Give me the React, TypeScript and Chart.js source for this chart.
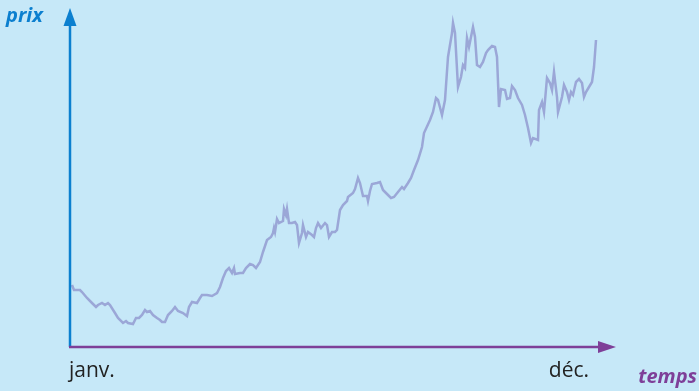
import React, { useEffect, useRef } from "react";
import { Chart, registerables } from "chart.js";

Chart.register(...registerables);

// time position along the year (arbitrary units, janv. = 0)
const t = [
  2, 4, 10, 12, 17, 22, 26, 28, 32, 35, 38, 40, 45, 48, 53, 56, 58, 63, 66, 69,
  72, 75, 77, 80, 83, 87, 90, 92, 95, 98, 102, 105, 108, 113, 117, 119, 122, 127, 130, 132,
  137, 142, 147, 150, 153, 156, 159, 162, 164, 165, 170, 173, 176, 180, 183, 186, 190, 193, 197, 201,
  203, 204, 205, 207, 209, 213, 214, 216, 217, 219, 222, 225, 227, 229, 232, 233, 236, 238, 242, 244,
  246, 248, 251, 255, 257, 259, 262, 265, 267, 270, 273, 277, 278, 283, 285, 288, 290, 293, 297, 298,
  300, 302, 307, 310, 313, 317, 321, 324, 328, 332, 334, 338, 341, 344, 348, 352, 354, 360, 363, 366,
  368, 372, 375, 378, 382, 383, 385, 388, 391, 393, 395, 397, 399, 401, 403, 405, 407, 410, 413, 416,
  418, 422, 425, 427, 429, 431, 435, 437, 440, 442, 445, 448, 452, 455, 458, 461, 463, 468, 469, 472,
  474, 477, 480, 482, 484, 487, 488, 492, 494, 497, 499, 501, 503, 506, 509, 512, 514, 516, 519, 522,
  524, 526,
];

// price (arbitrary units)
const prix = [
  62, 57, 57, 55, 49, 44, 40, 42, 44, 42, 44, 42, 34, 29, 24, 26, 24, 23, 29, 29,
  32, 37, 35, 36, 32, 29, 27, 25, 25, 32, 36, 40, 36, 34, 31, 40, 45, 44, 49, 52,
  52, 51, 54, 60, 69, 76, 79, 74, 79, 73, 74, 74, 79, 83, 82, 79, 85, 95, 107, 110,
  114, 119, 115, 128, 124, 126, 138, 132, 138, 124, 124, 125, 122, 104, 114, 122, 110, 115, 112, 110,
  119, 124, 119, 124, 122, 110, 115, 115, 117, 137, 142, 146, 150, 154, 158, 169, 164, 151, 151, 146,
  156, 163, 164, 165, 157, 153, 149, 150, 155, 160, 158, 164, 169, 177, 187, 200, 214, 227, 235, 249,
  247, 232, 247, 290, 314, 324, 314, 260, 270, 282, 279, 309, 300, 310, 320, 310, 282, 280, 285, 294,
  297, 301, 300, 290, 240, 258, 257, 248, 249, 261, 257, 249, 242, 232, 219, 204, 209, 207, 237, 245,
  235, 269, 264, 257, 275, 250, 235, 250, 262, 255, 247, 255, 252, 265, 268, 264, 250, 255, 260, 265,
  280, 307,
];

const debut = "janv.";
const fin = "déc.";
const titreY = "prix";
const titreX = "temps";

const BG = "#c6e8f8";
const BLUE = "#0b7fcf";
const PURPLE = "#7e3f98";

const decorPlugin = {
  id: "decor",
  beforeDraw(chart: any) {
    const { ctx, width, height } = chart;
    ctx.save();
    ctx.fillStyle = BG;
    ctx.fillRect(0, 0, width, height);
    ctx.restore();
  },
  afterDraw(chart: any) {
    const { ctx, chartArea } = chart;
    const left = chartArea.left;
    const bottom = chartArea.bottom;
    const top = chartArea.top;
    const right = chartArea.right;
    ctx.save();
    // y axis
    ctx.strokeStyle = BLUE;
    ctx.fillStyle = BLUE;
    ctx.lineWidth = 2.5;
    ctx.beginPath();
    ctx.moveTo(left, bottom);
    ctx.lineTo(left, top + 14);
    ctx.stroke();
    ctx.beginPath();
    ctx.moveTo(left, top - 2);
    ctx.lineTo(left - 6.5, top + 16);
    ctx.lineTo(left + 6.5, top + 16);
    ctx.closePath();
    ctx.fill();
    // x axis
    ctx.strokeStyle = PURPLE;
    ctx.fillStyle = PURPLE;
    ctx.beginPath();
    ctx.moveTo(left - 1, bottom);
    ctx.lineTo(right - 16, bottom);
    ctx.stroke();
    ctx.beginPath();
    ctx.moveTo(right, bottom);
    ctx.lineTo(right - 18, bottom - 6);
    ctx.lineTo(right - 18, bottom + 6);
    ctx.closePath();
    ctx.fill();
    // texts
    ctx.textBaseline = "alphabetic";
    ctx.font = 'italic bold 20px "Open Sans"';
    ctx.fillStyle = BLUE;
    ctx.textAlign = "left";
    ctx.fillText(titreY, 6, 22);
    ctx.fillStyle = PURPLE;
    ctx.textAlign = "right";
    ctx.fillText(titreX, 697, 383);
    ctx.font = '21px "Open Sans"';
    ctx.fillStyle = "#222222";
    ctx.textAlign = "left";
    ctx.fillText(debut, 69, 377);
    ctx.textAlign = "right";
    ctx.fillText(fin, 589, 377);
    ctx.restore();
  },
};

export default function App() {
  const ref = useRef<HTMLCanvasElement | null>(null);
  useEffect(() => {
    document.body.style.margin = "0";
    document.body.style.overflow = "hidden";
    const canvas = ref.current;
    if (!canvas) return;
    const points = t.map((x, i) => ({ x, y: prix[i] }));
    const chart = new Chart(canvas, {
      type: "line",
      data: {
        datasets: [
          {
            data: points,
            borderColor: "#9ba7d7",
            borderWidth: 2.5,
            pointRadius: 0,
            tension: 0,
            fill: false,
          },
        ],
      },
      options: {
        responsive: false,
        animation: false,
        devicePixelRatio: 1,
        layout: { padding: { left: 70, top: 10, right: 83, bottom: 44 } },
        plugins: { legend: { display: false }, tooltip: { enabled: false } },
        scales: {
          x: { type: "linear", min: 0, max: 546, display: false },
          y: { type: "linear", min: 0, max: 337, display: false },
        },
      },
      plugins: [decorPlugin],
    });
    return () => chart.destroy();
  }, []);
  return <canvas ref={ref} width={699} height={391} style={{ display: "block" }} />;
}
